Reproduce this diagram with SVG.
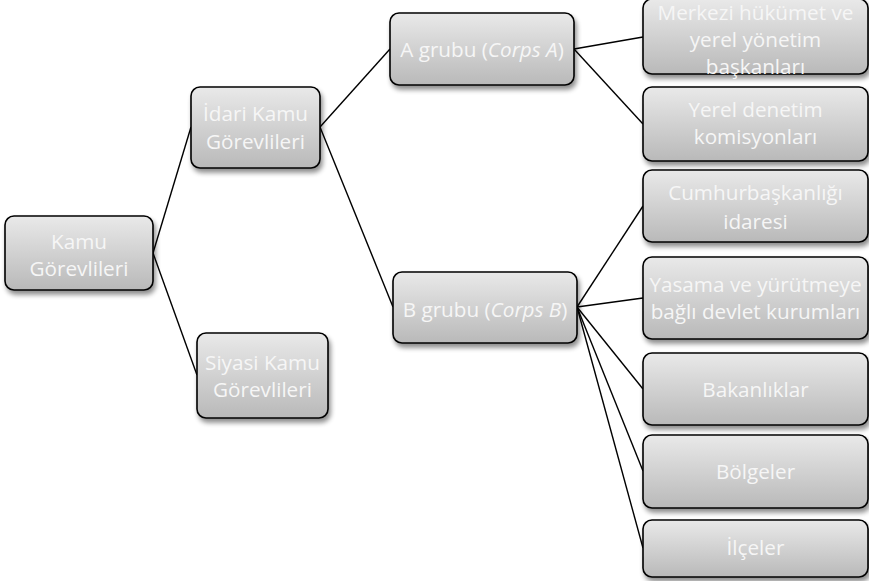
<svg xmlns="http://www.w3.org/2000/svg" width="869" height="581" viewBox="0 0 869 581">
<defs>
<linearGradient id="g" x1="0" y1="0" x2="0" y2="1">
<stop offset="0" stop-color="#e9e9e9"/>
<stop offset="1" stop-color="#b9b9b9"/>
</linearGradient>
<filter id="sh" x="-10%" y="-10%" width="130%" height="140%">
<feGaussianBlur in="SourceAlpha" stdDeviation="2.5"/>
<feOffset dx="2" dy="4" result="b"/>
<feComponentTransfer><feFuncA type="linear" slope="0.45"/></feComponentTransfer>
<feMerge><feMergeNode/><feMergeNode in="SourceGraphic"/></feMerge>
</filter>
</defs>
<style>
.box{fill:url(#g);stroke:#000;stroke-width:1.6;filter:url(#sh)}
.t{font-family:"Open Sans","Liberation Sans",sans-serif;font-size:20.7px;fill:#f6f6f6;text-anchor:middle}
.c{stroke:#000;stroke-width:1.4;fill:none}
</style>
<rect width="869" height="581" fill="#fff"/>
<g id="connectors">
<line class="c" x1="153" y1="253" x2="191" y2="127"/>
<line class="c" x1="153" y1="253" x2="197" y2="375"/>
<line class="c" x1="320" y1="127" x2="390" y2="49"/>
<line class="c" x1="320" y1="127" x2="393" y2="307"/>
<line class="c" x1="574" y1="49" x2="643" y2="37"/>
<line class="c" x1="574" y1="49" x2="643" y2="124"/>
<line class="c" x1="577" y1="307" x2="643" y2="206"/>
<line class="c" x1="577" y1="307" x2="643" y2="298"/>
<line class="c" x1="577" y1="307" x2="643" y2="389"/>
<line class="c" x1="577" y1="307" x2="643" y2="471"/>
<line class="c" x1="577" y1="307" x2="643" y2="548"/>
</g>
<g id="kamu">
<rect class="box" x="5" y="216" width="148" height="74" rx="9"/>
<text class="t" x="79" y="249">Kamu</text>
<text class="t" x="79" y="276">Görevlileri</text>
</g>
<g id="idari">
<rect class="box" x="191" y="87" width="129" height="81" rx="9"/>
<text class="t" x="255.5" y="121">İdari Kamu</text>
<text class="t" x="255.5" y="149">Görevlileri</text>
</g>
<g id="siyasi">
<rect class="box" x="197" y="333" width="131" height="85" rx="9"/>
<text class="t" x="262.5" y="370">Siyasi Kamu</text>
<text class="t" x="262.5" y="397">Görevlileri</text>
</g>
<g id="agrubu">
<rect class="box" x="390" y="13" width="184" height="72" rx="9"/>
<text class="t" x="482" y="57">A grubu (<tspan font-style="italic">Corps A</tspan>)</text>
</g>
<g id="bgrubu">
<rect class="box" x="393" y="272" width="184" height="71" rx="9"/>
<text class="t" x="485" y="317">B grubu (<tspan font-style="italic">Corps B</tspan>)</text>
</g>
<g id="merkezi">
<rect class="box" x="643" y="-1" width="225" height="75" rx="9"/>
<text class="t" x="755.5" y="20">Merkezi hükümet ve</text>
<text class="t" x="755.5" y="47">yerel yönetim</text>
<text class="t" x="755.5" y="74">başkanları</text>
</g>
<g id="yerel">
<rect class="box" x="643" y="87" width="225" height="74" rx="9"/>
<text class="t" x="755.5" y="117">Yerel denetim</text>
<text class="t" x="755.5" y="144">komisyonları</text>
</g>
<g id="cumhur">
<rect class="box" x="643" y="170" width="225" height="72" rx="9"/>
<text class="t" x="755.5" y="200">Cumhurbaşkanlığı</text>
<text class="t" x="755.5" y="229">idaresi</text>
</g>
<g id="yasama">
<rect class="box" x="643" y="257" width="225" height="82" rx="9"/>
<text class="t" x="755.5" y="292">Yasama ve yürütmeye</text>
<text class="t" x="755.5" y="319">bağlı devlet kurumları</text>
</g>
<g id="bakanliklar">
<rect class="box" x="643" y="353" width="225" height="72" rx="9"/>
<text class="t" x="755.5" y="397">Bakanlıklar</text>
</g>
<g id="bolgeler">
<rect class="box" x="643" y="435" width="225" height="73" rx="9"/>
<text class="t" x="755.5" y="479">Bölgeler</text>
</g>
<g id="ilceler">
<rect class="box" x="643" y="520" width="225" height="57" rx="9"/>
<text class="t" x="755.5" y="555">İlçeler</text>
</g>
</svg>
